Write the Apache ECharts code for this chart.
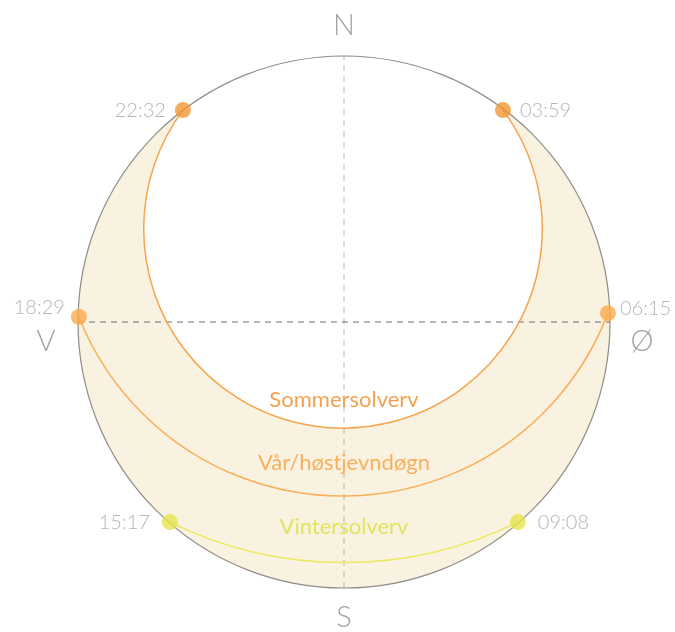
<!DOCTYPE html>
<html>
<head>
<meta charset="utf-8">
<script src="https://cdn.jsdelivr.net/npm/echarts@6/dist/echarts.min.js"></script>
<style>
  html, body { margin: 0; padding: 0; background: #fff; }
  #chart { width: 675px; height: 632px; }
</style>
</head>
<body>
<div id="chart"></div>
<script>
// horisont = 90 grader fra senit, alt i samme enhet
var horizon = 90;
var pathNames = ['Sommersolverv', 'Vår/høstjevndøgn', 'Vintersolverv'];
var riseTimes = ['03:59', '06:15', '09:08'];
var setTimes = ['22:32', '18:29', '15:17'];
var risePoints = [[53.8, 71.7], [89.3, 3.0], [58.8, -67.7]];
var setPoints = [[-54.5, 71.7], [-89.7, 1.7], [-58.9, -67.7]];
var lowPoints = [[0, -35.9], [0, -58.9], [0, -81.4]];
var compass = [['N', 0, horizon], ['S', 0, -horizon], ['V', -horizon, 0], ['Ø', horizon, 0]];

var FONT = 'Lato';
var lineColors = ['#f6a44c', '#f9ae58', '#ece85c'];
var dotColors = ['#f39633', '#fbaa4a', '#e5e44c'];
var textColors = ['#f4a14f', '#f8b05e', '#e4e35c'];
var labelLift = [28, 33, 36];

// sirkel gjennom tre punkter (piksler)
function circle3 (a, b, c) {
  var d = 2 * (a[0] * (b[1] - c[1]) + b[0] * (c[1] - a[1]) + c[0] * (a[1] - b[1]));
  var a2 = a[0] * a[0] + a[1] * a[1], b2 = b[0] * b[0] + b[1] * b[1], c2 = c[0] * c[0] + c[1] * c[1];
  var ux = (a2 * (b[1] - c[1]) + b2 * (c[1] - a[1]) + c2 * (a[1] - b[1])) / d;
  var uy = (a2 * (c[0] - b[0]) + b2 * (a[0] - c[0]) + c2 * (b[0] - a[0])) / d;
  return { cx: ux, cy: uy, r: Math.hypot(a[0] - ux, a[1] - uy) };
}

var pathData = pathNames.map(function (n, i) {
  return [risePoints[i][0], risePoints[i][1], setPoints[i][0], setPoints[i][1], lowPoints[i][0], lowPoints[i][1], i];
});

function pathCircle (api) {
  var r = api.coord([api.value(0), api.value(1)]);
  var s = api.coord([api.value(2), api.value(3)]);
  var l = api.coord([api.value(4), api.value(5)]);
  return { c: circle3(r, s, l), rise: r, set: s, low: l };
}

function horizonCircle (api) {
  var c = api.coord([api.value(0), api.value(1)]);
  var r = api.size([api.value(2), 0])[0];
  return { cx: c[0], cy: c[1], r: r };
}

var dots = [];
pathNames.forEach(function (n, i) {
  var equinox = i === 1;
  var dist = i === 2 ? 12 : 9;
  dots.push({
    value: risePoints[i], itemStyle: { color: dotColors[i] },
    label: { formatter: riseTimes[i], position: 'right', distance: equinox ? 4 : dist, offset: equinox ? [0, -5] : [0, 0] }
  });
  dots.push({
    value: setPoints[i], itemStyle: { color: dotColors[i] },
    label: { formatter: setTimes[i], position: 'left', distance: equinox ? 6 : dist, offset: equinox ? [0, -9] : [0, 0] }
  });
});

var compassOffsets = { N: [0, -30], S: [0, 30], V: [-32, 20], 'Ø': [32, 20] };

var myChart = echarts.init(document.getElementById('chart'));
var option = {
  animation: false,
  grid: { left: 78, top: 56, width: 532, height: 532 },
  xAxis: { type: 'value', min: -horizon, max: horizon, show: false },
  yAxis: { type: 'value', min: -horizon, max: horizon, show: false },
  series: [
    {
      // skravert område
      type: 'custom', z: 1, silent: true,
      data: [[0, 0, horizon]],
      renderItem: function (params, api) {
        var h = horizonCircle(api);
        return { type: 'circle', shape: h, style: { fill: '#faf2e0', stroke: null } };
      }
    },
    {
      // hvit skive innenfor sommerbanen
      type: 'custom', z: 2, silent: true,
      data: [pathData[0]],
      encode: { x: [0, 2, 4], y: [1, 3, 5] },
      renderItem: function (params, api) {
        var p = pathCircle(api);
        return { type: 'circle', shape: { cx: p.c.cx, cy: p.c.cy, r: p.c.r }, style: { fill: '#ffffff', stroke: null } };
      }
    },
    {
      type: 'line', z: 3, silent: true, symbol: 'none',
      data: [[0, -horizon], [0, horizon]],
      lineStyle: { color: 'rgba(150,150,150,0.45)', width: 1.5, type: [6, 5] }
    },
    {
      type: 'line', z: 3, silent: true, symbol: 'none',
      data: [[-horizon, 0], [horizon, 0]],
      lineStyle: { color: '#6f6f6f', width: 1, type: [6, 5] }
    },
    {
      type: 'custom', z: 4, silent: true,
      data: pathData,
      encode: { x: [0, 2, 4], y: [1, 3, 5] },
      renderItem: function (params, api) {
        var p = pathCircle(api);
        var i = api.value(6);
        var a0 = Math.atan2(p.rise[1] - p.c.cy, p.rise[0] - p.c.cx);
        var a1 = Math.atan2(p.set[1] - p.c.cy, p.set[0] - p.c.cx);
        if (a1 < a0) a1 += Math.PI * 2;
        return {
          type: 'group',
          children: [
            {
              type: 'arc',
              shape: { cx: p.c.cx, cy: p.c.cy, r: p.c.r, startAngle: a0, endAngle: a1, clockwise: true },
              style: { fill: null, stroke: lineColors[i], lineWidth: 1.5 }
            },
            {
              type: 'text', x: p.low[0], y: p.low[1] - labelLift[i],
              style: {
                text: pathNames[i], fill: textColors[i], fontSize: 22, fontFamily: FONT, fontWeight: 400,
                align: 'center', verticalAlign: 'middle'
              }
            }
          ]
        };
      }
    },
    {
      // horisontlinje
      type: 'custom', z: 5, silent: true,
      data: [[0, 0, horizon]],
      renderItem: function (params, api) {
        var h = horizonCircle(api);
        return { type: 'circle', shape: h, style: { fill: null, stroke: '#8e8d86', lineWidth: 1.2 } };
      }
    },
    {
      type: 'scatter', z: 6, silent: true,
      symbolSize: 16,
      data: dots,
      label: { show: true, color: '#a3a3a3', fontSize: 20, fontFamily: FONT, fontWeight: 300 }
    },
    {
      type: 'scatter', z: 6, silent: true,
      symbolSize: 0,
      data: compass.map(function (c) {
        return { value: [c[1], c[2]], label: { formatter: c[0], offset: compassOffsets[c[0]] } };
      }),
      label: { show: true, position: 'inside', color: '#8a8a8a', fontSize: 29, fontFamily: FONT, fontWeight: 300 }
    }
  ]
};
myChart.setOption(option);
</script>
</body>
</html>
